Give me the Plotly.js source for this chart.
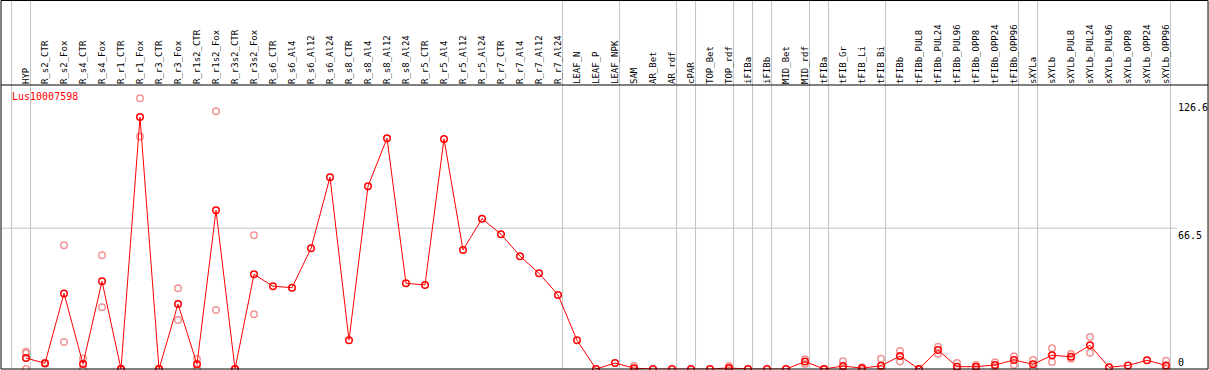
<!DOCTYPE html>
<html><head><meta charset="utf-8">
<script src="https://cdn.plot.ly/plotly-3.0.1.min.js"></script>
<style>html,body{margin:0;padding:0;background:#fff}#chart{width:1209px;height:370px}</style>
</head><body><div id="chart"></div><script>
const categories = ["HYP","R_s2_CTR","R_s2_Fox","R_s4_CTR","R_s4_Fox","R_r1_CTR","R_r1_Fox","R_r3_CTR","R_r3_Fox","R_r1s2_CTR","R_r1s2_Fox","R_r3s2_CTR","R_r3s2_Fox","R_s6_CTR","R_s6_Al4","R_s6_Al12","R_s6_Al24","R_s8_CTR","R_s8_Al4","R_s8_Al12","R_s8_Al24","R_r5_CTR","R_r5_Al4","R_r5_Al12","R_r5_Al24","R_r7_CTR","R_r7_Al4","R_r7_Al12","R_r7_Al24","LEAF_N","LEAF_P","LEAF_NPK","SAM","AR_Bet","AR_rdf","cPAR","TOP_Bet","TOP_rdf","iFIBa","iFIBb","MID_Bet","MID_rdf","tFIBa","tFIB_Gr","tFIB_Li","tFIB_Bi","tFIBb","tFIBb_PUL8","tFIBb_PUL24","tFIBb_PUL96","tFIBb_OPP8","tFIBb_OPP24","tFIBb_OPP96","sXYLa","sXYLb","sXYLb_PUL8","sXYLb_PUL24","sXYLb_PUL96","sXYLb_OPP8","sXYLb_OPP24","sXYLb_OPP96"];
const meanValues = [5.2,2.7,35.7,2.4,41.4,0,119.0,0,30.7,2.3,75.0,0,44.7,39.1,38.4,57.0,90.6,13.6,86.3,109.0,40.5,39.7,108.7,56.2,71.0,63.7,53.3,45.2,35.0,13.6,0,2.8,0.4,0,0,0,0,0.5,0,0,0,3.5,0,1.4,0.4,1.5,6.1,0,9.0,1.1,1.1,1.9,4.3,2.2,6.5,5.8,11.2,0.8,1.7,4.1,1.7];
const rep1 = [8.2,2.9,58.5,5.0,53.7,0,127.9,0,38.1,4.7,121.8,0,63.2,null,null,null,null,null,null,null,null,null,null,null,null,null,null,null,null,null,null,null,1.4,null,null,null,null,1.4,null,null,null,4.6,0,3.7,0.8,4.8,8.5,0,10.5,2.8,1.9,3.2,6.0,4.3,9.8,7.1,15.1,null,null,null,3.9];
const rep2 = [7.4,2.5,12.8,0,29.2,0,109.8,0,23.1,0,27.9,0,25.9,null,null,null,null,null,null,null,null,null,null,null,null,null,null,null,null,null,null,null,0,null,null,null,null,0,null,null,null,2.4,0,0,0,0,3.5,0,7.1,0,0,0.9,1.9,0,3.3,4.9,7.7,null,null,null,0];
const rep3 = [0,null,null,null,null,null,null,null,null,null,null,null,null,null,null,null,null,null,null,null,null,null,null,null,null,null,null,null,null,null,null,null,null,null,null,null,null,null,null,null,null,null,null,null,null,null,null,null,null,null,null,null,null,null,null,null,null,null,null,null,null];
const groupEnds = ["HYP","R_r7_Al24","LEAF_NPK","AR_rdf","cPAR","TOP_rdf","iFIBa","iFIBb","MID_rdf","tFIBa","tFIB_Bi","tFIBb_OPP96","sXYLa","sXYLb_OPP96"];
const yTickVals = [0, 66.5, 126.6];
const geneId = "Lus10007598";

const idx = categories.map((c,i)=>i);
const repX = [], repY = [];
[rep1,rep2,rep3].forEach(r=>r.forEach((v,i)=>{ if(v!==null){repX.push(i);repY.push(v);} }));

const RED = '#ff0000';
const LIGHT = '#f09595';
const mono = 'DejaVu Sans Mono, monospace';

const traces = [
  {x: repX, y: repY, mode:'markers', type:'scatter', cliponaxis:false, hoverinfo:'skip',
   marker:{symbol:'circle-open', size:6.5, color:LIGHT, line:{width:1.5, color:LIGHT}}},
  {x: idx, y: meanValues, mode:'lines+markers', type:'scatter', cliponaxis:false,
   line:{color:RED, width:1},
   marker:{symbol:'circle-open', size:6.5, color:RED, line:{width:1.5, color:RED}}},
  {x:[0], y:[0], yaxis:'y2', mode:'markers', marker:{opacity:0}, hoverinfo:'skip', showlegend:false}
];

const sepIdx = [-1].concat(groupEnds.map(c=>categories.indexOf(c)));
const shapes = sepIdx.map(i=>({type:'line', xref:'x', yref:'paper', x0:i+0.24, x1:i+0.24, y0:0, y1:1.31,
  line:{color:'#c4c4c4', width:1}, layer:'below'}));
shapes.push({type:'line', xref:'paper', yref:'y', x0:0, x1:1, y0:yTickVals[1], y1:yTickVals[1], line:{color:'#c4c4c4', width:1}, layer:'below'});
// frame and header separator
shapes.push({type:'rect', xref:'paper', yref:'paper', x0:0, x1:1.0264, y0:0, y1:1.2975, line:{color:'#000', width:1}});
shapes.push({type:'line', xref:'paper', yref:'paper', x0:0, x1:1.0264, y0:1, y1:1, line:{color:'#000', width:1}});

const layout = {
  width:1209, height:370, showlegend:false,
  margin:{l:1, r:32, t:85, b:1, pad:0},
  paper_bgcolor:'#fff', plot_bgcolor:'#fff',
  xaxis:{type:'linear', side:'top', range:[-1.3158, 60.5789], tickvals:idx, ticktext:categories,
    tickangle:-90, ticks:'', showgrid:false, zeroline:false, showline:false, automargin:false,
    tickfont:{family:mono, size:9, color:'#000'}},
  yaxis:{side:'right', range:[0,134.15], tickvals:yTickVals.slice(1), ticktext:yTickVals.slice(1).map(String),
    ticks:'', showgrid:false, zeroline:false, showline:false, automargin:false,
    ticklabelposition:'outside bottom', tickfont:{family:mono, size:10, color:'#000'}},
  yaxis2:{overlaying:'y', side:'right', range:[0,134.15], tickvals:[yTickVals[0]], ticktext:[String(yTickVals[0])],
    ticks:'', showgrid:false, zeroline:false, showline:false, automargin:false,
    ticklabelposition:'outside top', tickfont:{family:mono, size:10, color:'#000'}},
  shapes: shapes,
  annotations:[{xref:'paper', yref:'paper', x:0.0077, y:0.958, xanchor:'left', yanchor:'middle', showarrow:false,
    text:geneId, font:{family:mono, size:10, color:RED}}]
};
Plotly.newPlot('chart', traces, layout, {staticPlot:true, displayModeBar:false});
</script></body></html>
